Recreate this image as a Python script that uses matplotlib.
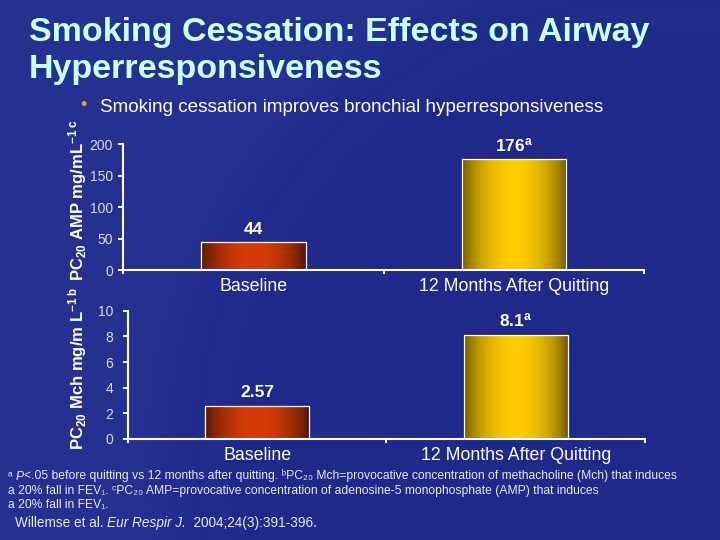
import numpy as np
import matplotlib
matplotlib.use("Agg")
import matplotlib.pyplot as plt
from matplotlib.colors import to_rgb

plt.rcParams['font.family'] = ['Liberation Sans', 'DejaVu Sans']
plt.rcParams['mathtext.fontset'] = 'custom'
plt.rcParams['mathtext.rm'] = 'Liberation Sans'
plt.rcParams['mathtext.it'] = 'Liberation Sans:italic'
plt.rcParams['mathtext.bf'] = 'Liberation Sans:bold'
plt.rcParams['mathtext.default'] = 'regular'

# ---------------- data ----------------
categories = ['Baseline', '12 Months After Quitting']
amp_values = [44, 176]
amp_labels = ['44', '176$^{a}$']
amp_ticks = [0, 50, 100, 150, 200]
mch_values = [2.57, 8.1]
mch_labels = ['2.57', '8.1$^{a}$']
mch_ticks = [0, 2, 4, 6, 8, 10]

subtitle = 'Smoking cessation improves bronchial hyperresponsiveness'
amp_ylabel = 'PC$_{20}$ AMP mg/mL$^{-1\\ c}$'
mch_ylabel = 'PC$_{20}$ Mch mg/m L$^{-1\\ b}$'
# footnote lines as (text, style) segments
foot_lines = [
    [('\u1d43 ', 'normal'), ('P', 'italic'),
     ('<.05 before quitting vs 12 months after quitting. \u1d47PC\u2082\u2080 Mch=provocative '
      'concentration of methacholine (Mch) that induces', 'normal')],
    [('a 20% fall in FEV\u2081. \u1d9cPC\u2082\u2080 AMP=provocative concentration of '
      'adenosine-5 monophosphate (AMP) that induces', 'normal')],
    [('a 20% fall in FEV\u2081.', 'normal')],
]
citation = [('Willemse et al. ', 'normal'), ('Eur Respir J.', 'italic'),
            ('  2004;24(3):391-396.', 'normal')]

W, H = 720, 540
fig = plt.figure(figsize=(7.2, 5.4), dpi=100)

def fx(x):
    return x / W

def fy(y):
    return 1 - y / H

# ---------------- background ----------------
bg = fig.add_axes([0, 0, 1, 1], zorder=-10)
yy, xx = np.mgrid[0:H, 0:W]
base = np.array(to_rgb('#1e2989'))
light = np.array(to_rgb('#2a3898'))
d = np.sqrt((xx - 651.0) ** 2 + (yy - 455.0) ** 2) - 436.0
outside = np.clip(d / 80.0, 0, 1)
streak = np.exp(-(d / 12.0) ** 2) * 0.3
mix = np.clip(outside * 0.55 + streak, 0, 1)
img = base[None, None, :] * (1 - mix[..., None]) + light[None, None, :] * mix[..., None]
bg.imshow(img, extent=[0, W, H, 0], aspect='auto')
bg.set_xlim(0, W)
bg.set_ylim(H, 0)
bg.axis('off')

# ---------------- titles ----------------
fig.text(fx(29), fy(41), 'Smoking Cessation: Effects on Airway', color='#ccffff',
         fontsize=24.5, fontweight='bold', ha='left', va='baseline')
fig.text(fx(29), fy(78), 'Hyperresponsiveness', color='#ccffff',
         fontsize=24.5, fontweight='bold', ha='left', va='baseline')
fig.text(fx(83), fy(110), '\u2022', color='#f0a030', fontsize=13, ha='center', va='baseline')
fig.text(fx(100), fy(112), subtitle, color='white', fontsize=13.6, ha='left', va='baseline')

# ---------------- bar helpers ----------------
def gradient(dark, bright, n=200):
    t = np.linspace(0, 1, n)
    w = np.sin(np.pi * t) ** 0.7
    dk = np.array(to_rgb(dark))
    br = np.array(to_rgb(bright))
    return (dk[None, :] * (1 - w[:, None]) + br[None, :] * w[:, None])[None, :, :]

grads = [gradient('#4a1404', '#d83c06'), gradient('#6a5500', '#ffcc00')]

def draw_panel(rect, values, labels, ticks, ylabel, ylabel_y, ypad):
    ax = fig.add_axes(rect)
    ax.patch.set_alpha(0)
    x = np.arange(len(categories))
    bars = ax.bar(x, values, width=0.40, facecolor='none', edgecolor='white',
                  linewidth=0.9, zorder=3)
    for b, g in zip(bars, grads):
        x0, w, h = b.get_x(), b.get_width(), b.get_height()
        im = ax.imshow(g, extent=[x0, x0 + w, 0, h], aspect='auto', zorder=2,
                       interpolation='bilinear')
        im.set_clip_path(b)
    for b, lab in zip(bars, labels):
        ax.annotate(lab, (b.get_x() + b.get_width() / 2, b.get_height()),
                    xytext=(0, 4), textcoords='offset points', ha='center', va='bottom',
                    color='white', fontsize=12.5, fontweight='bold')
    ax.set_xlim(-0.5, 1.5)
    ax.set_ylim(ticks[0], ticks[-1])
    ax.set_yticks(ticks)
    ax.set_xticks([-0.5, 0.5, 1.5])
    ax.set_xticklabels([])
    ax.set_xticks(x, minor=True)
    ax.set_xticklabels(categories, minor=True)
    ax.tick_params(axis='x', which='major', direction='out', length=3.2, width=1.4,
                   color='white')
    ax.tick_params(axis='x', which='minor', length=0, pad=5.5, labelsize=12.8,
                   labelcolor='white')
    ax.tick_params(axis='y', direction='out', length=3.8, width=1.4, color='white',
                   pad=ypad, labelsize=10, labelcolor='#dcdcdc')
    for s in ['top', 'right']:
        ax.spines[s].set_visible(False)
    for s in ['left', 'bottom']:
        ax.spines[s].set_color('white')
        ax.spines[s].set_linewidth(1.5)
    fig.text(fx(83), fy(ylabel_y), ylabel, rotation=90, rotation_mode='anchor',
             ha='center', va='baseline', color='white', fontsize=12, fontweight='bold')
    return ax

draw_panel([fx(123.3), fy(270), fx(644.3) - fx(123.3), (270 - 144.3) / H],
           amp_values, amp_labels, amp_ticks, amp_ylabel, 200, 3.6)
draw_panel([fx(127.7), fy(439), fx(645.3) - fx(127.7), (439 - 310.7) / H],
           mch_values, mch_labels, mch_ticks, mch_ylabel, 368, 6.5)

# ---------------- footnotes ----------------
renderer = fig.canvas.get_renderer()

def draw_segments(x_px, y_px, segments, size):
    x = x_px
    for txt, style in segments:
        t = fig.text(fx(x), fy(y_px), txt, color='#e8e8e8', fontsize=size,
                     fontstyle=style, ha='left', va='baseline')
        ext = t.get_window_extent(renderer=renderer)
        x += ext.width

for i, segs in enumerate(foot_lines):
    draw_segments(8, 479.5 + 14.2 * i, segs, 8.75)
draw_segments(15, 527, citation, 9.8)

fig.savefig('out.png', dpi=100)
